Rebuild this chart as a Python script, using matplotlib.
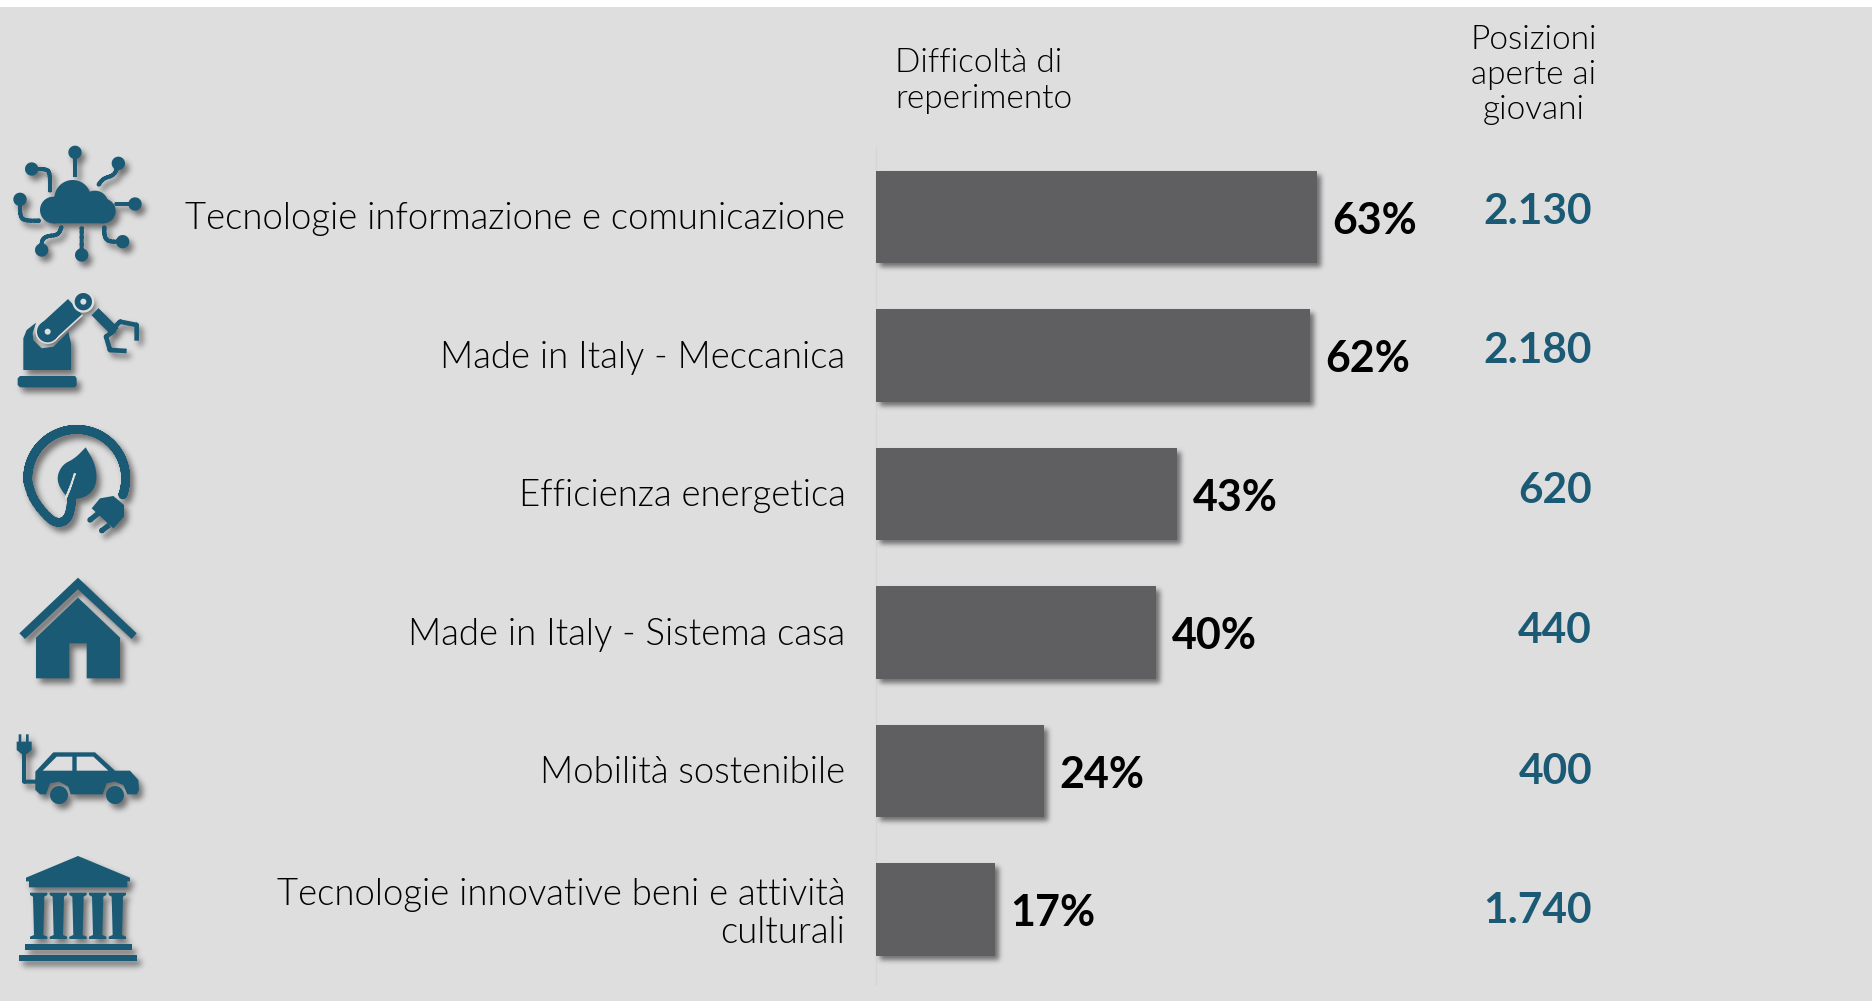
# -*- coding: UTF-8 -*-
import numpy as np
import matplotlib
matplotlib.use('Agg')
import matplotlib.pyplot as plt
from matplotlib import font_manager as fm
from matplotlib.patches import PathPatch, Rectangle
from matplotlib.path import Path
from matplotlib.transforms import Affine2D, ScaledTranslation

# dati
settori = ['Tecnologie informazione e comunicazione', 'Made in Italy - Meccanica',
           'Efficienza energetica', 'Made in Italy - Sistema casa',
           'Mobilità sostenibile', 'Tecnologie innovative beni e attività\nculturali']
difficolta = [63, 62, 43, 40, 24, 17]
posizioni = ['2.130', '2.180', '620', '440', '400', '1.740']

BLU = '#1B5A75'
GRIGIO = '#5F5F61'
SFONDO = '#DEDEDE'
W, H = 1872, 1001
FONT = 'Lato'

plt.rcParams['font.family'] = [FONT, 'DejaVu Sans']


def font_leggero(size):
    # 'light' in matplotlib finisce sul Lato Hairline, quindi si cerca il file
    for f in fm.findSystemFonts():
        if f.endswith('Lato-Light.ttf'):
            return fm.FontProperties(fname=f, size=size)
    return fm.FontProperties(family=FONT, size=size * 0.97)


def ombra(dx=4, dy=5, sigma=3.0, alfa=0.5):
    # filtro agg: ombra sfocata spostata
    def filtro(im, dpi):
        pad = int(sigma * 3) + max(dx, dy) + 2
        a = np.pad(im[:, :, 3], pad)
        k = np.exp(-0.5 * (np.arange(-pad, pad + 1) / sigma) ** 2)
        k = k / k.sum()
        a = np.apply_along_axis(lambda r: np.convolve(r, k, mode='same'), 0, a)
        a = np.apply_along_axis(lambda r: np.convolve(r, k, mode='same'), 1, a)
        a = np.roll(np.roll(a, dx, axis=1), dy, axis=0)
        out = np.zeros(a.shape + (4,))
        out[:, :, 3] = a * alfa
        return out, -pad, -pad
    return filtro


def liscia(pts, n=2, chiusa=False):
    # arrotonda gli angoli (Chaikin)
    pts = np.array(pts, dtype=float)
    for _ in range(n):
        a = pts if chiusa else pts[:-1]
        b = np.roll(pts, -1, axis=0) if chiusa else pts[1:]
        nuovi = np.empty((2 * len(a), 2))
        nuovi[0::2] = 0.75 * a + 0.25 * b
        nuovi[1::2] = 0.25 * a + 0.75 * b
        if not chiusa:
            nuovi = np.vstack([pts[:1], nuovi, pts[-1:]])
        pts = nuovi
    return pts


def poligono(pts):
    pts = np.array(pts, dtype=float)
    x, y = pts[:, 0], pts[:, 1]
    if np.sum(x * np.roll(y, -1) - np.roll(x, -1) * y) < 0:
        pts = pts[::-1]
    return Path(np.vstack([pts, pts[:1]]), closed=True)


def cerchio(cx, cy, r):
    t = np.linspace(0, 2 * np.pi, 60, endpoint=False)
    return poligono(np.c_[cx + r * np.cos(t), cy + r * np.sin(t)])


def rett(x0, y0, x1, y1):
    return poligono([(x0, y0), (x1, y0), (x1, y1), (x0, y1)])


def tratto(pts, w):
    # linea spessa fatta di rettangoli e cerchi, cosi resta un path pieno
    out = []
    pts = np.array(pts, dtype=float)
    for a, b in zip(pts[:-1], pts[1:]):
        if np.allclose(a, b):
            continue
        n = np.array([-(b - a)[1], (b - a)[0]])
        n = n / np.hypot(*n) * w / 2
        out.append(poligono([a + n, b + n, b - n, a - n]))
    for p in pts[1:-1]:
        out.append(cerchio(p[0], p[1], w / 2))
    return out


def icona(ax, ox, oy, strati):
    # strati = lista di (lista di path, colore); coordinate dello zoom 3x
    tr = Affine2D().scale(1 / 3).translate(ox, oy) + ax.transData
    pieni = [p for s, c in strati if c == BLU for p in s]
    om = PathPatch(Path.make_compound_path(*pieni), fc='k', ec='none', transform=tr, zorder=2)
    om.set_agg_filter(ombra())
    om.set_rasterized(True)
    ax.add_patch(om)
    for s, c in strati:
        ax.add_patch(PathPatch(Path.make_compound_path(*s), fc=c, ec='none', transform=tr, zorder=3))


fig = plt.figure(figsize=(W / 100, H / 100), dpi=100, facecolor='white')

# livello in pixel per sfondo e icone
bg = fig.add_axes([0, 0, 1, 1], zorder=0)
bg.set_xlim(0, W)
bg.set_ylim(H, 0)
bg.axis('off')
bg.add_patch(Rectangle((0, 7), W, H - 7, fc=SFONDO, ec='none', zorder=1))

# grafico a barre
passo = 138.5
c0 = 216.8
y_alto, y_basso = 147, 985
ax = fig.add_axes([876 / W, 1 - y_basso / H, 700 / W, (y_basso - y_alto) / H], zorder=1)
ax.patch.set_alpha(0)
ax.set_xlim(0, 100)
ax.set_ylim((y_basso - c0) / passo, (y_alto - c0) / passo)
pos = np.arange(len(settori))
ombre = ax.barh(pos, difficolta, height=0.668, color='k', zorder=3)
for b in ombre:
    b.set_agg_filter(ombra(dx=4, dy=4, sigma=2.5, alfa=0.5))
    b.set_rasterized(True)
ax.barh(pos, difficolta, height=0.668, color=GRIGIO, zorder=4)
for s in ['top', 'right', 'bottom']:
    ax.spines[s].set_visible(False)
ax.spines['left'].set_color('#D6D6D6')
ax.spines['left'].set_linewidth(1)
ax.spines['left'].set_zorder(1)
ax.set_xticks([])
ax.set_yticks(pos)
ax.set_yticklabels(settori, color='k', linespacing=1.16, ha='right')
ax.tick_params(axis='y', length=0, pad=22)
su = ScaledTranslation(0, 1.0 / 100, fig.dpi_scale_trans)
for lab in ax.get_yticklabels():
    lab.set_fontproperties(font_leggero(26.3))
    lab.set_transform(lab.get_transform() + su)

for i, v in enumerate(difficolta):
    ax.text(v + 2.2, i + 0.03, '%d%%' % v, fontsize=31, fontweight='bold', color='k', va='center', ha='left')

val_y = [212, 351, 491, 631, 772, 911]
for t, y in zip(posizioni, val_y):
    bg.text(1592, y, t, fontsize=30.5, fontweight='bold', color=BLU, va='center', ha='right')

bg.text(895, 81, 'Difficoltà di\nreperimento', fontproperties=font_leggero(24), color='k',
        va='center', ha='left', linespacing=1.21)
bg.text(1534, 75, 'Posizioni\naperte ai\ngiovani', fontproperties=font_leggero(24), color='k',
        va='center', ha='center', linespacing=1.21)

# icona 1: nuvola con circuiti
rami = [[(225, 67), (225, 140)],
        [(355, 100), (345, 135), (310, 145), (295, 165)],
        [(95, 117), (140, 117), (150, 130), (150, 185)],
        [(60, 208), (60, 260), (75, 272), (120, 272)],
        [(405, 222), (345, 222)],
        [(368, 335), (325, 335), (313, 320), (313, 290)],
        [(245, 375), (245, 290)],
        [(125, 360), (125, 330), (140, 318), (175, 315), (185, 290)]]
nuvola = [cerchio(160, 240, 40), cerchio(218, 205, 55), cerchio(285, 222, 40), cerchio(310, 243, 37),
          rett(160, 205, 310, 280)]
for r in rami:
    nuvola += tratto(liscia(r), 12) + [cerchio(r[0][0], r[0][1], 20)]
icona(bg, 0, 130, [(nuvola, BLU)])

# icona 2: braccio robot
corpo = [poligono([(53, 745), (60, 738), (225, 738), (230, 745), (230, 765), (225, 772), (60, 772), (53, 765)]),
         poligono([(70, 720), (70, 625), (80, 600), (108, 578), (98, 610), (100, 630), (125, 655), (160, 650),
                   (205, 605), (213, 640), (213, 720)])]
braccio = tratto([(143, 605), (225, 530)], 62) + [cerchio(143, 605, 32)]
mano = tratto([(285, 545), (345, 605)], 30) + tratto([(330, 605), (360, 575), (410, 585), (410, 632)], 14) \
    + tratto([(345, 600), (318, 620), (330, 660), (380, 663)], 14)
icona(bg, 0, 130, [(corpo + mano, BLU),
                   (tratto([(143, 605), (225, 530)], 72) + [cerchio(143, 605, 37)], SFONDO),
                   (braccio, BLU),
                   ([cerchio(250, 515, 33)], SFONDO),
                   ([cerchio(250, 515, 26)], BLU),
                   ([cerchio(250, 515, 9), cerchio(143, 605, 9)], SFONDO)])

# icona 3: foglia e spina
ang = np.radians(np.linspace(20, -185, 50))
anello = [(230 + 147 * np.cos(a), 205 + 147 * np.sin(a)) for a in ang]
anello += [(100, 270), (150, 330), (180, 340), (205, 325), (215, 280), (215, 250)]
foglia = [poligono(liscia([(257, 112), (257, 112), (257, 112), (285, 160), (292, 215), (270, 255), (225, 270),
                           (195, 258), (168, 210), (185, 165), (225, 145)], 3, chiusa=True))]
spina = [poligono([(275, 295), (300, 265), (340, 258), (372, 285), (372, 320), (340, 355)])]
spina += tratto([(295, 310), (270, 330)], 16) + tratto([(328, 345), (305, 362)], 16)
spina += [cerchio(270, 330, 8), cerchio(305, 362, 8)]
icona(bg, 0, 410, [(tratto(liscia(anello), 26) + foglia + spina, BLU),
                   (tratto(liscia([(225, 190), (210, 235), (197, 265)]), 6), SFONDO)])

# icona 4: casa
icona(bg, 0, 410, [([poligono([(58, 670), (234, 503), (410, 670), (395, 687), (234, 538), (75, 687)]),
                     poligono([(108, 683), (234, 563), (360, 683), (360, 805), (260, 805), (260, 700),
                               (208, 700), (208, 805), (108, 805)])], BLU)])

# icona 5: auto elettrica
auto = [poligono([(50, 125), (95, 125), (95, 150), (80, 162), (65, 162), (50, 150)]),
        rett(56, 103, 64, 125), rett(78, 103, 86, 125)]
auto += tratto([(72, 160), (72, 245), (110, 245)], 12)
auto += [poligono([(106, 215), (160, 157), (285, 157), (345, 212), (390, 212), (415, 240), (417, 270),
                   (410, 283), (382, 283), (370, 255), (345, 245), (320, 250), (308, 283), (212, 283),
                   (205, 260), (178, 245), (150, 250), (138, 283), (120, 283), (106, 270)]),
         cerchio(177, 285, 27), cerchio(345, 285, 27)]
finestre = [poligono([(128, 212), (170, 170), (217, 170), (217, 212)]),
            poligono([(230, 170), (280, 170), (325, 212), (230, 212)])]
icona(bg, 0, 700, [(auto, BLU), (finestre, SFONDO)])

# icona 6: tempio
tempio = [poligono([(78, 533), (234, 468), (390, 533), (390, 544), (382, 544), (382, 562), (87, 562),
                    (87, 544), (78, 544)]),
          rett(75, 732, 396, 750), rett(57, 765, 411, 783)]
for cx in [116, 175, 234, 293, 352]:
    tempio += [poligono([(cx - 26, 578), (cx + 26, 578), (cx + 26, 585), (cx + 17, 590), (cx + 14, 705),
                         (cx + 26, 710), (cx + 26, 717), (cx - 26, 717), (cx - 26, 710), (cx - 14, 705),
                         (cx - 17, 590), (cx - 26, 585)])]
icona(bg, 0, 700, [(tempio, BLU)])

fig.savefig('out.png', dpi=100, facecolor='white')
